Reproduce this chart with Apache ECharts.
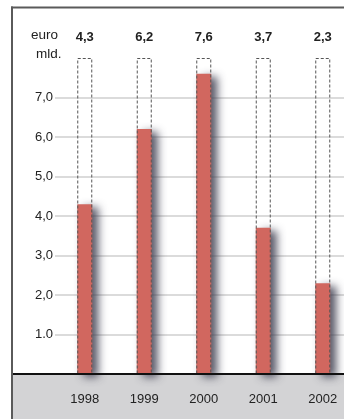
<!DOCTYPE html>
<html>
<head>
<meta charset="utf-8">
<script src="https://cdn.jsdelivr.net/npm/echarts@6/dist/echarts.min.js"></script>
<style>
  html, body { margin: 0; padding: 0; background: #fff; }
  #chart { width: 344px; height: 419px; }
</style>
</head>
<body>
<div id="chart"></div>
<script>
// Yearly amounts (euro mld.)
const years = ['1998', '1999', '2000', '2001', '2002'];
const amounts = [4.3, 6.2, 7.6, 3.7, 2.3];
// Dashed outline height for each column
const outlineTop = [8, 8, 8, 8, 8];
// Y axis tick labels (index = tick value)
const yTickLabels = ['', '1.0', '2,0', '3,0', '4,0', '5,0', '6,0', '7,0', ''];

const FONT = "'Liberation Sans', Arial, sans-serif";
const RED = '#d1675f';

const chart = echarts.init(document.getElementById('chart'), null, { renderer: 'canvas' });

chart.setOption({
  animation: false,
  backgroundColor: '#fff',
  grid: {
    left: 55, top: 58, right: -8.5, bottom: 45,
    containLabel: false,
    outerBoundsMode: 'none'
  },
  graphic: [
    // bottom band and its top rule
    { type: 'rect', z: -10, shape: { x: 13, y: 374, width: 340, height: 50 }, style: { fill: '#d3d3d5' } },
    { type: 'line', z: 10, shape: { x1: 13, y1: 374, x2: 344, y2: 374 }, style: { stroke: '#111', lineWidth: 2 } },
    // frame: top and left edges
    { type: 'line', z: 10, shape: { x1: 11, y1: 7.5, x2: 344, y2: 7.5 }, style: { stroke: '#5a5a5a', lineWidth: 2 } },
    { type: 'line', z: 10, shape: { x1: 12, y1: 6.5, x2: 12, y2: 419 }, style: { stroke: '#5a5a5a', lineWidth: 2 } },
    // unit caption
    { type: 'text', left: 31, top: 28, style: { text: 'euro', font: '13.5px ' + FONT, fill: '#222' } },
    { type: 'text', left: 36, top: 47, style: { text: 'mld.', font: '13.5px ' + FONT, fill: '#222' } }
  ],
  xAxis: {
    type: 'category',
    data: years,
    axisTick: { show: false },
    axisLine: { lineStyle: { color: '#111', width: 2 } },
    axisLabel: { margin: 19, fontFamily: FONT, fontSize: 13, color: '#222' },
    splitLine: { show: false }
  },
  yAxis: {
    type: 'value',
    min: 0,
    max: 8,
    interval: 1,
    axisLine: { show: false },
    axisTick: { show: false },
    axisLabel: {
      margin: 2,
      fontFamily: FONT,
      fontSize: 13,
      color: '#222',
      formatter: v => yTickLabels[Math.round(v)] || ''
    },
    splitLine: { show: true, showMinLine: false, showMaxLine: false, lineStyle: { color: '#cfcfcf', width: 1.5 } }
  },
  series: [
    {
      name: 'amount',
      type: 'bar',
      data: amounts,
      barWidth: 15,
      z: 2,
      itemStyle: {
        color: RED,
        shadowColor: 'rgba(60,60,78,0.85)',
        shadowBlur: 8,
        shadowOffsetX: 6,
        shadowOffsetY: 3
      }
    },
    {
      name: 'outline',
      type: 'bar',
      data: outlineTop,
      barWidth: 15,
      barGap: '-100%',
      z: 3,
      silent: true,
      itemStyle: {
        color: 'rgba(0,0,0,0)',
        borderColor: '#555',
        borderWidth: 1,
        borderType: [3, 2]
      },
      label: {
        show: true,
        position: 'top',
        distance: 14,
        fontFamily: FONT,
        fontSize: 13,
        fontWeight: 'bold',
        color: '#222',
        formatter: p => amounts[p.dataIndex].toFixed(1).replace('.', ',')
      }
    }
  ]
});
</script>
</body>
</html>
